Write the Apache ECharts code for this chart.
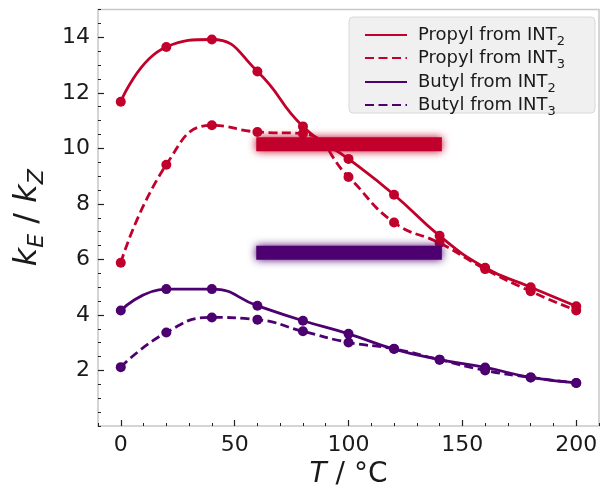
<!DOCTYPE html>
<html>
<head>
<meta charset="utf-8">
<script src="https://cdn.jsdelivr.net/npm/echarts@6/dist/echarts.min.js"></script>
<style>
  html, body { margin: 0; padding: 0; background: #fff; }
  #main { width: 601px; height: 497px; }
</style>
</head>
<body>
<div id="main"></div>
<script>
// temperatures (°C) and k_E / k_Z ratios
var temps = [0, 20, 40, 60, 80, 100, 120, 140, 160, 180, 200];
var propylInt2 = [11.68, 13.65, 13.92, 12.77, 10.79, 9.62, 8.33, 6.85, 5.70, 5.00, 4.31];
var propylInt3 = [5.88, 9.41, 10.83, 10.59, 10.53, 8.97, 7.33, 6.59, 5.65, 4.85, 4.16];
var butylInt2 = [4.16, 4.93, 4.93, 4.33, 3.79, 3.32, 2.77, 2.39, 2.11, 1.75, 1.55];
var butylInt3 = [2.12, 3.37, 3.91, 3.83, 3.41, 3.01, 2.78, 2.39, 2.00, 1.75, 1.55];

// blurred bars over the plot (x span, y level)
var bandX = [59.5, 141];
var bandRed = 10.15;
var bandPurple = 6.24;

var xTicks = [0, 50, 100, 150, 200];
var yTicks = [2, 4, 6, 8, 10, 12, 14];

var RED = '#c1002b';
var PURPLE = '#4d0070';
var FONT = 'DejaVu Sans';

function pairs(ys) {
    return temps.map(function (t, i) { return [t, ys[i]]; });
}

var myChart = echarts.init(document.getElementById('main'));

function lineSeries(name, ys, color, dashed) {
    return {
        name: name,
        type: 'line',
        smooth: 0.5,
        symbol: 'circle',
        symbolSize: 10,
        data: pairs(ys),
        itemStyle: { color: color },
        lineStyle: { color: color, width: 2.8, type: dashed ? [9, 4.5] : 'solid' },
        emphasis: { disabled: true },
        z: 3
    };
}

function bandSeries(y, color) {
    return {
        type: 'line',
        silent: true,
        symbol: 'none',
        data: [[bandX[0], y], [bandX[1], y]],
        lineStyle: { color: color, width: 14, cap: 'butt', shadowBlur: 8, shadowColor: color },
        z: 5
    };
}

var legendText = {
    fontFamily: FONT,
    fontSize: 18,
    color: '#1a1a1a',
    lineHeight: 20,
    padding: [0, 0, 0, 6],
    rich: {
        s: { fontFamily: FONT, fontSize: 13, verticalAlign: 'top', padding: [10, 0, 0, 0], lineHeight: 20, color: '#1a1a1a' }
    }
};
function subFmt(name) { return name.replace(/(\d)$/, '{s|$1}'); }

function hiddenLine() { return { show: false, onZero: false }; }

var option = {
    animation: false,
    grid: {
        left: 97, right: 2, top: 9.5, bottom: 71,
        show: true, borderColor: '#c8c8c8', borderWidth: 1.5, backgroundColor: 'transparent'
    },
    graphic: [{
        type: 'rect',
        shape: { x: 349, y: 17, width: 246, height: 96, r: 4 },
        style: { fill: '#f0f0f0', stroke: '#d8d8d8', lineWidth: 1 },
        z: 10
    }],
    legend: [{
        orient: 'vertical', left: 359, top: 20, itemWidth: 42, itemGap: 0,
        data: ['Propyl from INT2', 'Propyl from INT3'],
        itemStyle: { opacity: 0 },
        formatter: subFmt, textStyle: legendText, z: 11
    }, {
        orient: 'vertical', left: 359, top: 67, itemWidth: 42, itemGap: 0,
        data: ['Butyl from INT2', 'Butyl from INT3'],
        itemStyle: { opacity: 0 },
        formatter: subFmt, textStyle: legendText, z: 11
    }],
    xAxis: [{
        type: 'value', min: -10, max: 210,
        name: '{i|T}{n| / °C}', nameLocation: 'middle', nameGap: 30,
        nameTextStyle: {
            rich: {
                i: { fontFamily: FONT, fontSize: 28, fontStyle: 'italic', color: '#1a1a1a' },
                n: { fontFamily: FONT, fontSize: 28, color: '#1a1a1a' }
            }
        },
        axisLine: hiddenLine(),
        splitLine: { show: false },
        axisTick: { inside: true, length: 6, lineStyle: { color: '#222', width: 1.2 }, customValues: xTicks },
        axisLabel: { customValues: xTicks, fontFamily: FONT, fontSize: 22, color: '#1a1a1a', margin: 8 }
    }, {
        type: 'value', min: -10, max: 210, interval: 10, position: 'bottom',
        axisLine: hiddenLine(), splitLine: { show: false }, axisLabel: { show: false },
        axisTick: { inside: true, length: 3, lineStyle: { color: '#222', width: 1 } }
    }],
    yAxis: [{
        type: 'value', min: 0, max: 15,
        name: '{k|k}{s|E}{n| / }{k|k}{s|Z}', nameLocation: 'middle', nameGap: 50,
        nameTextStyle: {
            rich: {
                k: { fontFamily: FONT, fontSize: 32, fontStyle: 'italic', color: '#1a1a1a', lineHeight: 40 },
                s: { fontFamily: FONT, fontSize: 22, fontStyle: 'italic', color: '#1a1a1a', verticalAlign: 'top', padding: [18, 0, 0, 0], lineHeight: 40 },
                n: { fontFamily: FONT, fontSize: 32, color: '#1a1a1a', lineHeight: 40 }
            }
        },
        axisLine: hiddenLine(),
        splitLine: { show: false },
        axisTick: { inside: true, length: 6, lineStyle: { color: '#222', width: 1.2 }, customValues: yTicks },
        axisLabel: { customValues: yTicks, fontFamily: FONT, fontSize: 22, color: '#1a1a1a', margin: 8 }
    }, {
        type: 'value', min: 0, max: 15, interval: 0.5, position: 'left',
        axisLine: hiddenLine(), splitLine: { show: false }, axisLabel: { show: false },
        axisTick: { inside: true, length: 3, lineStyle: { color: '#222', width: 1 } }
    }],
    series: [
        lineSeries('Propyl from INT2', propylInt2, RED, false),
        lineSeries('Propyl from INT3', propylInt3, RED, true),
        lineSeries('Butyl from INT2', butylInt2, PURPLE, false),
        lineSeries('Butyl from INT3', butylInt3, PURPLE, true),
        bandSeries(bandRed, RED),
        bandSeries(bandPurple, PURPLE)
    ]
};

myChart.setOption(option);
</script>
</body>
</html>
